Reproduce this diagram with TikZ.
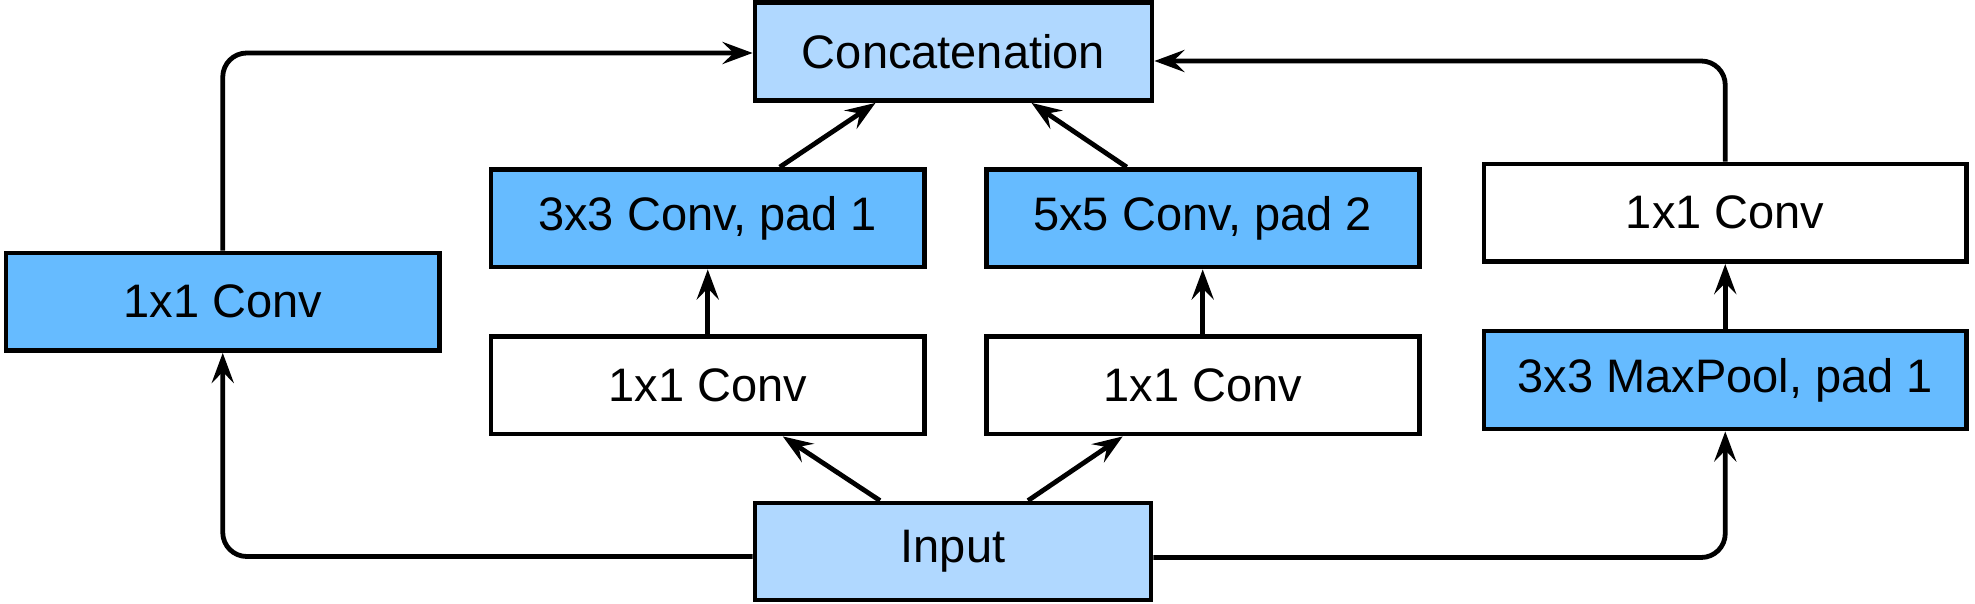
\documentclass[tikz,border=0pt]{standalone}
\usepackage{fontspec}
\setmainfont{Liberation Sans}
\usetikzlibrary{arrows.meta}
\definecolor{lightblue}{HTML}{B0D8FF}
\definecolor{midblue}{HTML}{66BBFF}
\begin{document}
\begin{tikzpicture}[x=0.5pt,y=-0.5pt,
  box/.style={draw=black, line width=2.4pt, inner sep=0pt, font=\fontsize{23.5}{28}\selectfont, anchor=center},
  lbox/.style={box, fill=lightblue},
  mbox/.style={box, fill=midblue},
  wbox/.style={box, fill=white},
  conn/.style={line width=2.4pt, -{Stealth[length=15pt,width=11pt,inset=5.5pt]}, rounded corners=12pt}]
\useasboundingbox (0,0) rectangle (1975,604);
\node[lbox, minimum width=198.5pt, minimum height=49pt] (cat) at (953.5,51.5) {Concatenation};
\node[lbox, minimum width=198pt, minimum height=48.5pt] (in) at (953,551.5) {Input};
\node[mbox, minimum width=216.75pt, minimum height=48.75pt] (l1) at (222.75,301.75) {1x1 Conv};
\node[mbox, minimum width=216.75pt, minimum height=48.75pt] (c3) at (707.75,218.25) {3x3 Conv, pad 1};
\node[wbox, minimum width=216.75pt, minimum height=48.75pt] (r1a) at (707.75,385.25) {1x1 Conv};
\node[mbox, minimum width=216.4pt, minimum height=48.75pt] (c5) at (1202.7,218.25) {5x5 Conv, pad 2};
\node[wbox, minimum width=216.4pt, minimum height=48.75pt] (r1b) at (1202.7,385.25) {1x1 Conv};
\node[wbox, minimum width=241.25pt, minimum height=48.85pt] (p1) at (1725.25,212.8) {1x1 Conv};
\node[mbox, minimum width=241.25pt, minimum height=49pt] (mp) at (1725.25,380) {3x3 MaxPool, pad 1};
\draw[conn] ([yshift=-2.5pt]in.west) -| (l1.south);
\draw[conn] (l1.north) |- ([yshift=-0.75pt]cat.west);
\draw[conn] ([yshift=-3pt]in.east) -| (mp.south);
\draw[conn] (mp.north) -- (p1.south);
\draw[conn] (p1.north) |- ([yshift=-4.75pt]cat.east);
\draw[conn] ([xshift=-36.5pt]in.north) -- ([xshift=37.5pt]r1a.south);
\draw[conn] ([xshift=37.5pt]in.north) -- ([xshift=-40pt]r1b.south);
\draw[conn] (r1a.north) -- (c3.south);
\draw[conn] (r1b.north) -- (c5.south);
\draw[conn] ([xshift=36pt]c3.north) -- ([xshift=-39pt]cat.south);
\draw[conn] ([xshift=-38pt]c5.north) -- ([xshift=39pt]cat.south);
\end{tikzpicture}
\end{document}
